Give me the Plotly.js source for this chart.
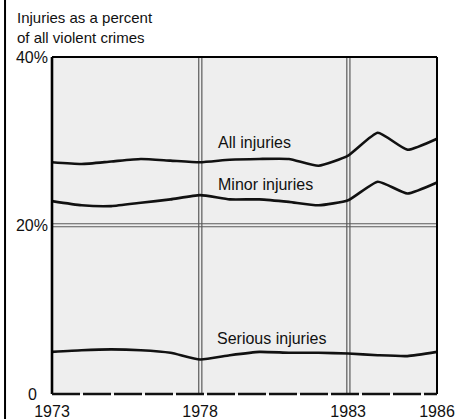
<!DOCTYPE html>
<html>
<head>
<meta charset="utf-8">
<script src="https://cdn.plot.ly/plotly-3.0.1.min.js"></script>
<style>html,body{margin:0;padding:0;background:#fff;}#chart{width:460px;height:419px;}</style>
</head>
<body>
<div id="chart"></div>
<script>
// Data
const years = [1973,1974,1975,1976,1977,1978,1979,1980,1981,1982,1983,1984,1985,1986];
const allInjuries     = [27.5,27.3,27.6,27.9,27.7,27.5,27.8,27.9,27.9,27.1,28.3,31.0,29.0,30.3];
const minorInjuries   = [22.9,22.4,22.3,22.7,23.1,23.6,23.1,23.1,22.8,22.4,23.0,25.2,23.8,25.1];
const seriousInjuries = [5.0,5.2,5.3,5.2,4.9,4.1,4.6,5.0,4.9,4.9,4.8,4.6,4.5,5.0];
const seriesNames = ['All injuries','Minor injuries','Serious injuries'];
const labelYears = [1979.85, 1980.2, 1980.4];
const labelValues = [29.9, 24.9, 6.6];
const titleLines = ['Injuries as a percent','of all violent crimes'];
const xTickVals = [1973,1978,1983,1986];
const xTickText = ['1973','1978','1983','1986'];
const yTickVals = [0,20,40];
const yTickText = ['0\u2002\u2009','20%','40%'];
const gridYears = [1978,1983];
const gridPcts = [20];

const FONT = 'Liberation Sans, Arial, Helvetica, sans-serif';
const lineStyle = {color:'#111', width:2.6, shape:'spline', smoothing:0.5};
const series = [allInjuries, minorInjuries, seriousInjuries];
const traces = series.map((s,i)=>({
  x: years, y: s, type:'scatter', mode:'lines', line: lineStyle,
  name: seriesNames[i], showlegend:false, hoverinfo:'skip'
}));

const shapes = [];
const gcol = '#5a5a5a';
gridYears.forEach(g=>{
  [-0.045, 0.06].forEach(d=>{
    shapes.push({type:'line', xref:'x', yref:'paper', x0:g+d, x1:g+d, y0:0, y1:1,
      line:{color:gcol, width:1.2}, layer:'below'});
  });
});
gridPcts.forEach(g=>{
  [0.2, -0.15].forEach(d=>{
    shapes.push({type:'line', xref:'paper', yref:'y', x0:0, x1:1, y0:g+d, y1:g+d,
      line:{color:gcol, width:1.1}, layer:'below'});
  });
});
// frame
shapes.push({type:'line', xref:'paper', yref:'paper', x0:0, x1:1, y0:1, y1:1, line:{color:'#000', width:2.2}});
shapes.push({type:'line', xref:'paper', yref:'paper', x0:0, x1:0, y0:0, y1:1, line:{color:'#000', width:2.6}});
shapes.push({type:'line', xref:'paper', yref:'paper', x0:1, x1:1, y0:0, y1:1, line:{color:'#000', width:2}});
shapes.push({type:'line', xref:'paper', yref:'paper', x0:0, x1:1, y0:0, y1:0, line:{color:'#111', width:2.4, dash:'28px,3px'}});
// left page rule
shapes.push({type:'line', xref:'paper', yref:'paper', x0:-0.122, x1:-0.122, y0:-0.08, y1:1.18, line:{color:'#000', width:2}});

const annotations = seriesNames.map((n,i)=>({
  x: labelYears[i], y: labelValues[i], xref:'x', yref:'y', text:n, showarrow:false,
  font:{family:FONT, size:16, color:'#111'}, xanchor:'center', yanchor:'middle'
}));
annotations.push({
  x:(16-52)/385, y:1+(57-27.5)/337, xref:'paper', yref:'paper', xanchor:'left', yanchor:'middle', align:'left',
  text:titleLines.join('<br>'), showarrow:false, borderpad:0,
  font:{family:FONT, size:15, color:'#111'}
});

const layout = {
  width:460, height:419,
  margin:{l:52, r:23, t:57, b:25, pad:0},
  paper_bgcolor:'#ffffff', plot_bgcolor:'#eeeeee',
  xaxis:{range:[1973,1986], tickvals:xTickVals, ticktext:xTickText, showgrid:false, zeroline:false,
    showline:false, ticks:'', ticklabelstandoff:6, tickfont:{family:FONT, size:16, color:'#111'}, fixedrange:true},
  yaxis:{range:[0,40], tickvals:yTickVals, ticktext:yTickText, showgrid:false, zeroline:false,
    showline:false, ticks:'', ticklabelstandoff:3, tickfont:{family:FONT, size:16, color:'#111'}, fixedrange:true},
  shapes: shapes,
  annotations: annotations,
  showlegend:false
};
Plotly.newPlot('chart', traces, layout, {staticPlot:true, displayModeBar:false});
</script>
</body>
</html>
